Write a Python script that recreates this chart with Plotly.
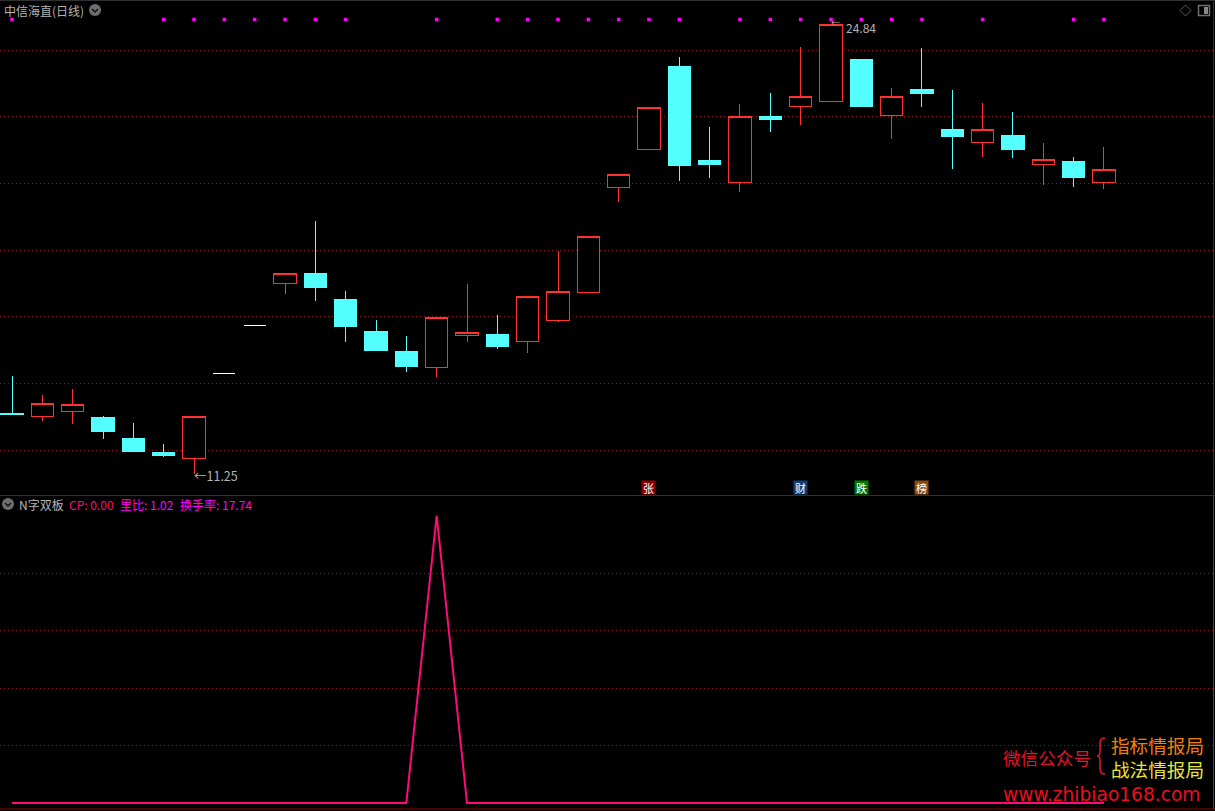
import plotly.graph_objects as go

W, H = 1215, 811
index = list(range(37))
opens = [13.11, 13.01, 13.16, 12.98, 12.35, 11.93, 11.75, 14.30, 15.73, 17.00, 17.30, 16.52, 15.56, 14.96, 14.48, 15.44, 15.47, 15.26, 15.89, 16.73, 19.88, 21.02, 23.51, 20.69, 20.03, 22.01, 22.30, 22.46, 23.72, 22.04, 22.82, 21.62, 21.23, 21.44, 20.57, 20.66, 20.03]
highs = [14.21, 13.64, 13.82, 13.01, 12.80, 12.17, 13.01, 14.30, 15.73, 17.30, 18.86, 16.76, 15.89, 15.41, 15.98, 16.97, 16.04, 16.60, 17.96, 18.41, 20.27, 22.28, 23.78, 21.68, 22.37, 22.70, 24.08, 24.77, 23.72, 22.87, 24.05, 22.79, 22.40, 22.13, 21.20, 20.78, 21.08]
lows = [13.04, 12.86, 12.77, 12.32, 11.93, 11.78, 11.27, 14.30, 15.73, 16.67, 16.46, 15.23, 14.96, 14.33, 14.18, 15.23, 15.02, 14.90, 15.83, 16.73, 19.43, 21.02, 20.06, 20.15, 19.73, 21.53, 21.74, 22.46, 22.30, 21.32, 22.28, 20.42, 20.78, 20.75, 19.94, 19.88, 19.82]
closes = [13.08, 13.40, 13.37, 12.55, 11.96, 11.84, 13.01, 14.30, 15.73, 17.30, 16.88, 15.71, 14.99, 14.51, 15.98, 15.53, 15.11, 16.60, 16.76, 18.41, 20.27, 22.28, 20.54, 20.57, 22.01, 21.92, 22.60, 24.77, 22.30, 22.60, 22.70, 21.41, 21.62, 21.02, 20.72, 20.18, 20.42]
flat_days = [7, 8]
signal_days = [0, 5, 6, 7, 8, 9, 10, 11, 14, 16, 17, 18, 19, 20, 21, 22, 24, 25, 26, 27, 28, 29, 30, 32, 35, 36]
cp_values = [0] * 14 + [100] + [0] * 22
price_ticks = [12, 14, 16, 18, 20, 22, 24]
cp_ticks = [20, 40, 60, 80]
news_tags = [("张", 21, "#8b0000"), ("财", 26, "#0f3f78"), ("跌", 28, "#007a00"), ("榜", 30, "#8a4a12")]

X_RANGE = [-0.396, 39.66]
Y1_RANGE = [10.65, 25.41]
Y2_RANGE = [-1.74, 106.8]
SIGNAL_LEVEL = 24.915
FONT = "Noto Sans CJK SC"
COMPACT_FONT = "Liberation Sans, Noto Sans CJK SC"
GRID = "#8c1616"
RED = "#ff3232"
CYAN = "#54ffff"

solid = [i for i in index if i not in flat_days]
pick = lambda arr, ids: [arr[i] for i in ids]

fig = go.Figure()
fig.add_trace(go.Candlestick(
    x=solid, open=pick(opens, solid), high=pick(highs, solid), low=pick(lows, solid), close=pick(closes, solid),
    increasing=dict(line=dict(color=RED, width=1), fillcolor="#000000"),
    decreasing=dict(line=dict(color=CYAN, width=1), fillcolor=CYAN),
    whiskerwidth=0, hoverinfo="skip", xaxis="x", yaxis="y", showlegend=False))
fig.add_trace(go.Candlestick(
    x=flat_days, open=pick(opens, flat_days), high=pick(highs, flat_days), low=pick(lows, flat_days), close=pick(closes, flat_days),
    increasing=dict(line=dict(color="#ffffff", width=1), fillcolor="#ffffff"),
    decreasing=dict(line=dict(color="#ffffff", width=1), fillcolor="#ffffff"),
    whiskerwidth=0, hoverinfo="skip", xaxis="x", yaxis="y", showlegend=False))
fig.add_trace(go.Scatter(
    x=signal_days, y=[SIGNAL_LEVEL] * len(signal_days), mode="markers",
    marker=dict(symbol="square", size=3.5, color="#ff00ff", line=dict(width=0)),
    hoverinfo="skip", xaxis="x", yaxis="y", showlegend=False))
fig.add_trace(go.Scatter(
    x=index, y=cp_values, mode="lines", line=dict(color="#ff0a78", width=2),
    hoverinfo="skip", xaxis="x2", yaxis="y2", showlegend=False))


def px(x):
    return x / W


def py(y):
    return 1 - y / H


def label(x, y, text, color="#b4b4b4", size=12, family=FONT):
    fig.add_annotation(xref="paper", yref="paper", x=px(x), y=py(y), text=text, showarrow=False,
                       xanchor="left", yanchor="middle", align="left",
                       font=dict(family=family, size=size, color=color), borderpad=0)


label(3, 10, "中信海直(日线)", size=12)
label(18, 505, "N字双板", size=12)
label(67.5, 505, "CP: 0.00", "#ff0a78", 12)
label(118.5, 505, "里比: 1.02", "#ff00ff", 12)
label(178.5, 505, "换手率: 17.74", "#ff00ff", 12)

fig.add_annotation(xref="x", yref="y", x=6, y=11.27, text="←11.25", showarrow=False, xanchor="left", yanchor="middle",
                   xshift=-2, yshift=-1, font=dict(family=FONT, size=12.5, color="#b4b4b4"))
fig.add_annotation(xref="x", yref="y", x=27, y=24.77, text="24.84", showarrow=False, xanchor="left", yanchor="middle",
                   xshift=13, yshift=-3, font=dict(family=FONT, size=12, color="#b4b4b4"))
fig.add_annotation(xref="x", yref="y", x=27, y=24.77, text="←", showarrow=False, xanchor="left", yanchor="middle",
                   xshift=-2, yshift=2, font=dict(family=FONT, size=9, color="#b4b4b4"))

for text, day, color in news_tags:
    fig.add_annotation(xref="x", yref="paper", x=day, y=py(487.5), text=text, showarrow=False,
                       bgcolor=color, font=dict(family=FONT, size=11, color="#ffffff"),
                       xanchor="center", yanchor="middle", borderpad=0, height=13, width=13)

label(1002, 757, "微信公众号", "#e3142d", 17.6)
label(1110, 746, "指标情报局", "#f08000", 18.6, COMPACT_FONT)
label(1110, 770, "战法情报局", "#e6e63c", 18.6, COMPACT_FONT)
label(1002, 794, "www.zhibiao168.com", "#e8101e", 18.6, "DejaVu Sans")

shapes = [
    dict(type="line", xref="paper", yref="paper", x0=0, x1=1, y0=py(495.5), y1=py(495.5), line=dict(color="#8c0a0a", width=1)),
    dict(type="line", xref="paper", yref="paper", x0=0, x1=1, y0=py(809), y1=py(809), line=dict(color="#8c0a0a", width=1)),
    dict(type="line", xref="paper", yref="paper", x0=0, x1=1, y0=py(0.5), y1=py(0.5), line=dict(color="#303030", width=1)),
    dict(type="line", xref="paper", yref="paper", x0=px(1213.5), x1=px(1213.5), y0=py(0), y1=py(495), line=dict(color="#8c0a0a", width=1)),
    dict(type="line", xref="paper", yref="paper", x0=px(1213.5), x1=px(1213.5), y0=py(496), y1=py(809), line=dict(color="#d01010", width=1)),
    # drop-down buttons
    dict(type="circle", xref="paper", yref="paper", x0=px(89), x1=px(101), y0=py(16), y1=py(4), fillcolor="#6e6e6e", line=dict(width=0)),
    dict(type="circle", xref="paper", yref="paper", x0=px(2), x1=px(14), y0=py(510), y1=py(498), fillcolor="#6e6e6e", line=dict(width=0)),
]
for cx, cy in [(95, 10), (8, 504)]:
    shapes.append(dict(type="path", xref="paper", yref="paper",
                       path=f"M {px(cx-3)} {py(cy-1)} L {px(cx)} {py(cy+2)} L {px(cx+3)} {py(cy-1)}",
                       line=dict(color="#111111", width=1.5)))
# diamond and panel icons
shapes.append(dict(type="path", xref="paper", yref="paper",
                   path=f"M {px(1185.5)} {py(5)} L {px(1191)} {py(10.5)} L {px(1185.5)} {py(16)} L {px(1180)} {py(10.5)} Z",
                   line=dict(color="#5a5a5a", width=1)))
shapes.append(dict(type="rect", xref="paper", yref="paper", x0=px(1198.5), x1=px(1209.5), y0=py(15.5), y1=py(5.5),
                   line=dict(color="#6e6e6e", width=1.5)))
shapes.append(dict(type="rect", xref="paper", yref="paper", x0=px(1204), x1=px(1208), y0=py(14), y1=py(7),
                   fillcolor="#8a8a8a", line=dict(width=0)))
# watermark brace
shapes.append(dict(type="path", xref="paper", yref="paper",
                   path=(f"M {px(1105)} {py(738)} Q {px(1100)} {py(738)} {px(1100)} {py(743)} L {px(1100)} {py(751)} "
                         f"Q {px(1100)} {py(756)} {px(1097)} {py(756)} Q {px(1100)} {py(756)} {px(1100)} {py(761)} "
                         f"L {px(1100)} {py(769)} Q {px(1100)} {py(774)} {px(1105)} {py(774)}"),
                   line=dict(color="#e3142d", width=1.5)))

axis_common = dict(showline=False, zeroline=False, ticks="", fixedrange=True)
fig.update_layout(
    width=W, height=H, autosize=False,
    margin=dict(l=0, r=0, t=0, b=0, pad=0),
    paper_bgcolor="#000000", plot_bgcolor="#000000",
    boxgap=0.27, boxgroupgap=0, shapes=shapes, hovermode=False, showlegend=False,
    xaxis=dict(range=X_RANGE, domain=[0, 1], anchor="y", showgrid=False, showticklabels=False,
               rangeslider=dict(visible=False), **axis_common),
    yaxis=dict(range=Y1_RANGE, domain=[py(495), py(3)], anchor="x", tickvals=price_ticks, showticklabels=False,
               showgrid=True, gridcolor=GRID, griddash="1px,3px", gridwidth=1, **axis_common),
    xaxis2=dict(range=X_RANGE, domain=[0, 1], anchor="y2", showgrid=False, showticklabels=False, **axis_common),
    yaxis2=dict(range=Y2_RANGE, domain=[py(808), py(496)], anchor="x2", tickvals=cp_ticks, showticklabels=False,
                showgrid=True, gridcolor=GRID, griddash="1px,3px", gridwidth=1, **axis_common),
)

fig.write_html("out.html", config=dict(displayModeBar=False),
               post_script="document.body.style.margin='0';document.body.style.background='#000';document.documentElement.style.overflow='hidden';"
                           "document.querySelectorAll('.boxes path').forEach(function(p){p.style.shapeRendering='crispEdges';});")
